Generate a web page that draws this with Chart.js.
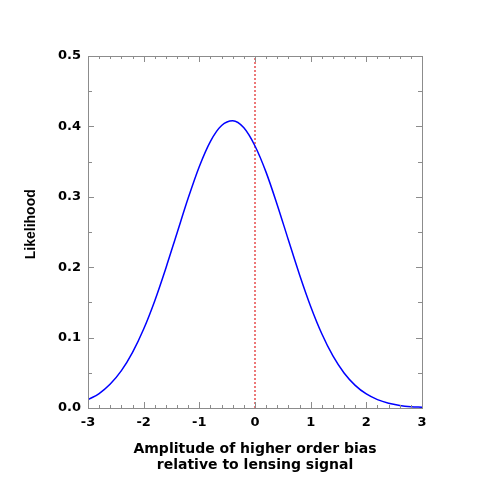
<!DOCTYPE html>
<html>
<head>
<meta charset="utf-8">
<script src="https://cdn.jsdelivr.net/npm/chart.js@4.4.1/dist/chart.umd.min.js"></script>
<style>
html,body{margin:0;padding:0;background:#fff;}
#wrap{width:491px;height:491px;}
</style>
</head>
<body>
<div id="wrap"><canvas id="c" width="491" height="491"></canvas></div>
<script>
// Data
const xValues = [-3.0,-2.8,-2.6,-2.4,-2.2,-2.0,-1.8,-1.6,-1.4,-1.2,-1.0,-0.8,-0.6,-0.4,-0.2,0.0,0.2,0.4,0.6,0.8,1.0,1.2,1.4,1.6,1.8,2.0,2.2,2.4,2.6,2.8,3.0];
const likelihood = [0.0118,0.0205,0.0340,0.0530,0.0790,0.1122,0.1525,0.1990,0.2487,0.2982,0.3431,0.3788,0.4012,0.4080,0.3980,0.3722,0.3347,0.2885,0.2386,0.1894,0.1443,0.1055,0.0740,0.0498,0.0322,0.0199,0.0119,0.0068,0.0037,0.0019,0.0010];
const refLineX = [0, 0];
const refLineY = [0, 0.5];
const xTicks = [-3,-2,-1,0,1,2,3];
const xMinorStep = 0.2;
const yTicks = [0.0,0.1,0.2,0.3,0.4,0.5];
const yMinorStep = 0.05;
const xTitle = ["Amplitude of higher order bias", "relative to lensing signal"];
const yTitle = "    Likelihood";

const FONT_H = "'DejaVu Sans', Arial, Helvetica, sans-serif";
const FONT_V = "'Liberation Sans', Arial, Helvetica, sans-serif";
const FRAME = "#8c8c8c";

const framePlugin = {
  id: 'frameTicks',
  afterDatasetsDraw(chart) {
    const {ctx, chartArea: a, scales: {x, y}} = chart;
    ctx.save();
    ctx.strokeStyle = FRAME;
    ctx.lineWidth = 1;
    ctx.beginPath();
    const nx = Math.round((x.max - x.min) / xMinorStep);
    for (let i = 0; i <= nx; i++) {
      const v = x.min + i * xMinorStep;
      const px = Math.round(x.getPixelForValue(v)) + 0.5;
      const major = Math.abs(v - Math.round(v)) < 1e-6;
      const len = major ? 6 : 3;
      ctx.moveTo(px, a.bottom); ctx.lineTo(px, a.bottom - len);
      ctx.moveTo(px, a.top); ctx.lineTo(px, a.top + len);
    }
    const ny = Math.round((y.max - y.min) / yMinorStep);
    for (let i = 0; i <= ny; i++) {
      const v = y.min + i * yMinorStep;
      const py = Math.round(y.getPixelForValue(v)) + 0.5;
      const major = i % 2 === 0;
      const len = major ? 6 : 4;
      ctx.moveTo(a.left, py); ctx.lineTo(a.left + len, py);
      ctx.moveTo(a.right, py); ctx.lineTo(a.right - len, py);
    }
    ctx.stroke();
    ctx.strokeRect(Math.round(a.left) + 0.5, Math.round(a.top) + 0.5, Math.round(a.right - a.left), Math.round(a.bottom - a.top));
    ctx.restore();
  }
};

new Chart(document.getElementById('c'), {
  type: 'line',
  data: {
    datasets: [
      {
        data: xValues.map((v, i) => ({x: v, y: likelihood[i]})),
        borderColor: '#0000ff',
        borderWidth: 1.5,
        pointRadius: 0,
        cubicInterpolationMode: 'monotone',
        fill: false
      },
      {
        data: refLineX.map((v, i) => ({x: v, y: refLineY[i]})),
        borderColor: '#e02020',
        borderWidth: 1.2,
        borderDash: [2, 2],
        pointRadius: 0,
        fill: false
      }
    ]
  },
  options: {
    responsive: false,
    animation: false,
    layout: {padding: {left: 0, right: 69, top: 56, bottom: 0}},
    plugins: {legend: {display: false}, tooltip: {enabled: false}},
    scales: {
      x: {
        type: 'linear', min: -3, max: 3,
        afterBuildTicks: s => { s.ticks = xTicks.map(v => ({value: v})); },
        afterFit: s => { s.height = 83; },
        grid: {display: false, drawTicks: false},
        border: {display: false},
        ticks: {
          padding: 7, color: '#000', maxRotation: 0,
          font: {family: FONT_H, size: 13, weight: 'bold'},
          callback: v => String(v)
        },
        title: {
          display: true, text: xTitle, color: '#000',
          font: {family: FONT_H, size: 14, weight: 'bold', lineHeight: '16px'},
          padding: {top: 0, bottom: 18}
        }
      },
      y: {
        type: 'linear', min: 0, max: 0.5,
        afterBuildTicks: s => { s.ticks = yTicks.map(v => ({value: v})); },
        afterFit: s => { s.width = 88; },
        grid: {display: false, drawTicks: false},
        border: {display: false},
        ticks: {
          padding: 7, color: '#000',
          font: {family: FONT_H, size: 13, weight: 'bold'},
          callback: v => Number(v).toFixed(1)
        },
        title: {
          display: true, text: yTitle, color: '#000',
          font: {family: FONT_V, size: 14, weight: 'bold'},
          padding: {top: 23, bottom: 0}
        }
      }
    }
  },
  plugins: [framePlugin]
});
</script>
</body>
</html>
